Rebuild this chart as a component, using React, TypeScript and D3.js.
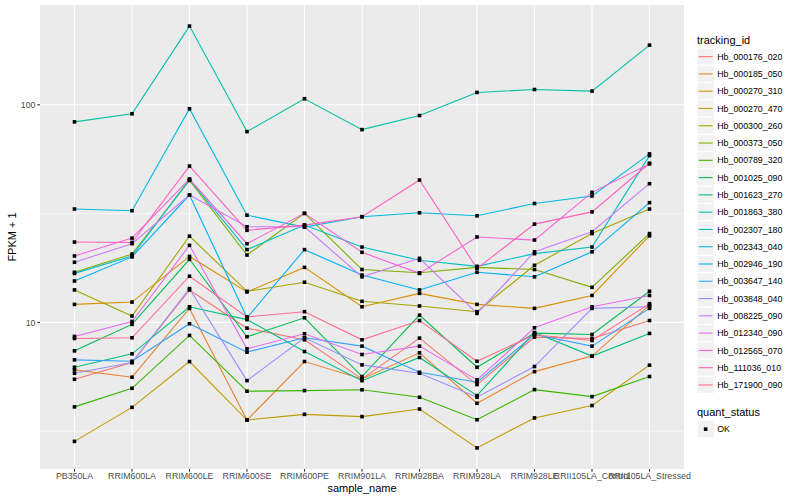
import * as d3 from "d3";

// FPKM + 1 per sample (log scale)
const sampleNames = [
  "PB350LA",
  "RRIM600LA",
  "RRIM600LE",
  "RRIM600SE",
  "RRIM600PE",
  "RRIM901LA",
  "RRIM928BA",
  "RRIM928LA",
  "RRIM928LE",
  "RRII105LA_Control",
  "RRII105LA_Stressed",
];

const trackingIds = [
  "Hb_000176_020",
  "Hb_000185_050",
  "Hb_000270_310",
  "Hb_000270_470",
  "Hb_000300_260",
  "Hb_000373_050",
  "Hb_000789_320",
  "Hb_001025_090",
  "Hb_001623_270",
  "Hb_001863_380",
  "Hb_002307_180",
  "Hb_002343_040",
  "Hb_002946_190",
  "Hb_003647_140",
  "Hb_003848_040",
  "Hb_008225_090",
  "Hb_012340_090",
  "Hb_012565_070",
  "Hb_111036_010",
  "Hb_171900_090",
];

const hb000176_020 = [5.48, 6.54, 14.1, 9.41, 8.32, 5.5, 8.47, 5.18, 8.56, 8.44, 10.2];
const hb000185_050 = [6.05, 5.6, 11.6, 3.56, 6.61, 5.5, 7.25, 4.25, 5.94, 7.0, 12.0];
const hb000270_310 = [12.1, 12.4, 20.1, 13.8, 17.9, 11.8, 13.6, 12.1, 11.6, 13.3, 25.0];
const hb000270_470 = [2.84, 4.07, 6.61, 3.56, 3.78, 3.69, 4.0, 2.65, 3.64, 4.15, 6.36];
const hb000300_260 = [14.1, 10.7, 24.9, 13.9, 15.3, 12.5, 11.9, 11.2, 18.3, 25.6, 33.2];
const hb000373_050 = [17.0, 20.6, 44.9, 20.4, 31.7, 17.5, 16.9, 17.9, 17.5, 14.5, 25.6];
const hb000789_320 = [4.09, 4.98, 8.71, 4.83, 4.86, 4.9, 4.53, 3.57, 4.91, 4.56, 5.64];
const hb001025_090 = [7.4, 9.79, 19.5, 8.59, 10.5, 5.64, 10.8, 6.22, 8.93, 8.8, 13.9];
const hb001623_270 = [6.22, 7.17, 11.8, 10.3, 7.35, 5.4, 6.9, 4.61, 8.99, 7.0, 8.9];
const hb001863_380 = [83.5, 90.9, 230, 75.3, 106.6, 76.9, 89.3, 114, 117.6, 115.6, 188];
const hb002307_180 = [16.8, 20.2, 45.4, 21.6, 28.0, 22.2, 19.3, 18.1, 20.7, 22.2, 58.4];
const hb002343_040 = [33.2, 32.6, 95.9, 31.1, 27.4, 30.6, 31.9, 30.9, 35.2, 38.1, 59.5];
const hb002946_190 = [15.5, 20.0, 38.5, 10.5, 21.6, 16.5, 14.1, 17.0, 16.2, 21.1, 35.5];
const hb003647_140 = [6.73, 6.63, 9.86, 7.3, 8.5, 7.78, 5.9, 5.31, 8.8, 7.78, 11.6];
const hb003848_040 = [5.84, 6.54, 14.3, 5.4, 8.5, 6.38, 5.84, 4.53, 6.27, 11.6, 11.8];
const hb008225_090 = [18.9, 23.0, 38.5, 27.5, 27.5, 16.2, 19.7, 11.0, 21.1, 26.1, 43.4];
const hb012340_090 = [8.62, 10.1, 22.6, 7.56, 8.87, 7.12, 7.78, 5.44, 9.45, 11.8, 13.3];
const hb012565_070 = [20.2, 24.4, 45.6, 23.0, 31.7, 21.0, 16.8, 24.7, 23.9, 39.6, 53.5];
const hb111036_010 = [23.4, 23.3, 52.3, 26.5, 28.0, 30.6, 45.1, 17.7, 28.3, 32.2, 53.9];
const hb171900_090 = [8.44, 8.5, 16.3, 10.6, 11.2, 8.32, 10.2, 6.63, 8.78, 8.26, 12.2];

const seriesValues = [
  hb000176_020, hb000185_050, hb000270_310, hb000270_470, hb000300_260,
  hb000373_050, hb000789_320, hb001025_090, hb001623_270, hb001863_380,
  hb002307_180, hb002343_040, hb002946_190, hb003647_140, hb003848_040,
  hb008225_090, hb012340_090, hb012565_070, hb111036_010, hb171900_090,
];

// ggplot2 default hue palette for 20 levels
const palette = [
  "#F8766D", "#EA8331", "#D89000", "#C09B00", "#A3A500",
  "#7CAE00", "#39B600", "#00BB4E", "#00BF7D", "#00C1A3",
  "#00BFC4", "#00BAE0", "#00B0F6", "#35A2FF", "#9590FF",
  "#C77CFF", "#E76BF3", "#FA62DB", "#FF62BC", "#FF6C91",
];

const yTicks = [10, 100];
const yMinor = [Math.pow(10, 0.5), Math.pow(10, 1.5), Math.pow(10, 2.5)];

const font = "'Liberation Sans', Arial, Helvetica, sans-serif";

export default function App() {
  const width = 800;
  const height = 500;
  const panel = { left: 40, right: 684, top: 5, bottom: 469 };

  const x = d3
    .scalePoint<string>()
    .domain(sampleNames)
    .range([panel.left, panel.right])
    .padding(0.6);

  // log scale with ggplot-style 5% expansion in log space
  const all = seriesValues.flat();
  const lo = Math.log10(d3.min(all) ?? 1);
  const hi = Math.log10(d3.max(all) ?? 10);
  const pad = (hi - lo) * 0.05;
  const y = d3
    .scaleLog()
    .domain([Math.pow(10, lo - pad), Math.pow(10, hi + pad)])
    .range([panel.bottom, panel.top]);

  const line = d3
    .line<number>()
    .x((_, i) => x(sampleNames[i]) ?? 0)
    .y((d) => y(d));

  const keyH = 17.28;
  const legendTop = 48;
  const legendX = 697;

  return (
    <svg
      width={width}
      height={height}
      style={{ position: "absolute", left: 0, top: 0, background: "#fff" }}
      fontFamily={font}
    >
      <rect
        x={panel.left}
        y={panel.top}
        width={panel.right - panel.left}
        height={panel.bottom - panel.top}
        fill="#EBEBEB"
      />
      {/* grid */}
      {yMinor.map((v) =>
        y(v) >= panel.top && y(v) <= panel.bottom ? (
          <line
            key={"mn" + v}
            x1={panel.left}
            x2={panel.right}
            y1={y(v)}
            y2={y(v)}
            stroke="#fff"
            strokeWidth={0.55}
          />
        ) : null
      )}
      {yTicks.map((v) => (
        <line
          key={"mj" + v}
          x1={panel.left}
          x2={panel.right}
          y1={y(v)}
          y2={y(v)}
          stroke="#fff"
          strokeWidth={1.1}
        />
      ))}
      {sampleNames.map((s) => (
        <line
          key={"gx" + s}
          x1={x(s)}
          x2={x(s)}
          y1={panel.top}
          y2={panel.bottom}
          stroke="#fff"
          strokeWidth={1.1}
        />
      ))}

      {/* lines */}
      {seriesValues.map((vals, i) => (
        <path
          key={trackingIds[i]}
          d={line(vals) ?? ""}
          fill="none"
          stroke={palette[i]}
          strokeWidth={1.1}
        />
      ))}
      {/* points */}
      {seriesValues.map((vals, i) =>
        vals.map((v, j) => (
          <rect
            key={trackingIds[i] + j}
            x={(x(sampleNames[j]) ?? 0) - 1.8}
            y={y(v) - 1.8}
            width={3.6}
            height={3.6}
            fill="#000"
          />
        ))
      )}

      {/* y axis */}
      {yTicks.map((v) => (
        <g key={"yt" + v}>
          <line x1={panel.left - 2.7} x2={panel.left} y1={y(v)} y2={y(v)} stroke="#333" strokeWidth={1.1} />
          <text x={panel.left - 4.5} y={y(v) + 3.1} textAnchor="end" fontSize={8.8} fill="#4D4D4D">
            {v}
          </text>
        </g>
      ))}
      {/* x axis */}
      {sampleNames.map((s) => (
        <g key={"xt" + s}>
          <line x1={x(s)} x2={x(s)} y1={panel.bottom} y2={panel.bottom + 2.7} stroke="#333" strokeWidth={1.1} />
          <text x={x(s)} y={479} textAnchor="middle" fontSize={8.8} fill="#4D4D4D">
            {s}
          </text>
        </g>
      ))}
      <text x={(panel.left + panel.right) / 2} y={491.5} textAnchor="middle" fontSize={11} fill="#000">
        sample_name
      </text>
      <text
        transform={`translate(16,${(panel.top + panel.bottom) / 2}) rotate(-90)`}
        textAnchor="middle"
        fontSize={11}
        fill="#000"
      >
        FPKM + 1
      </text>

      {/* legend: tracking_id */}
      <text x={legendX} y={43.5} fontSize={11} fill="#000">
        tracking_id
      </text>
      {trackingIds.map((id, i) => {
        const top = legendTop + i * keyH;
        return (
          <g key={"lg" + id}>
            <rect x={legendX} y={top} width={keyH} height={keyH} fill="#F2F2F2" stroke="#fff" strokeWidth={1} />
            <line
              x1={legendX + 1.7}
              x2={legendX + keyH - 1.7}
              y1={top + keyH / 2}
              y2={top + keyH / 2}
              stroke={palette[i]}
              strokeWidth={1.1}
            />
            <text x={legendX + keyH + 3} y={top + keyH / 2 + 3.1} fontSize={8.8} fill="#000">
              {id}
            </text>
          </g>
        );
      })}

      {/* legend: quant_status */}
      <text x={legendX} y={416} fontSize={11} fill="#000">
        quant_status
      </text>
      <rect x={legendX} y={420.5} width={keyH} height={keyH} fill="#F2F2F2" stroke="#fff" strokeWidth={1} />
      <rect x={legendX + keyH / 2 - 1.8} y={420.5 + keyH / 2 - 1.8} width={3.6} height={3.6} fill="#000" />
      <text x={legendX + keyH + 3} y={420.5 + keyH / 2 + 3.1} fontSize={8.8} fill="#000">
        OK
      </text>
    </svg>
  );
}
